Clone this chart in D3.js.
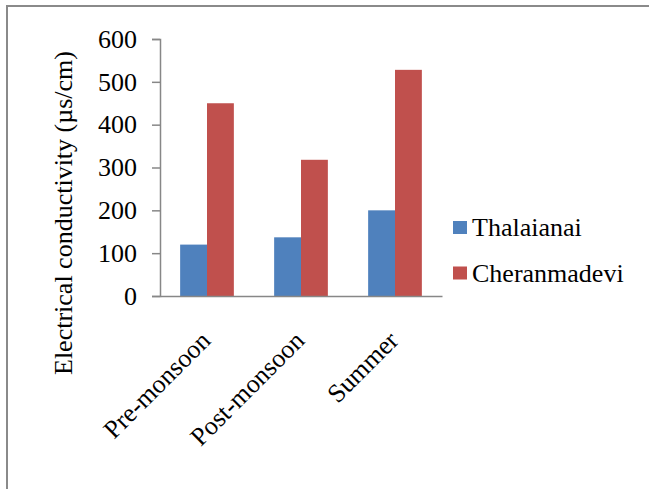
<!DOCTYPE html>
<html>
<head>
<meta charset="utf-8">
<script src="https://cdn.jsdelivr.net/npm/d3@7"></script>
<style>
  html, body { margin: 0; padding: 0; background: #fff; }
  svg { display: block; }
</style>
</head>
<body>
<svg id="chart" width="649" height="489"></svg>
<script>
const categories = ["Pre-monsoon", "Post-monsoon", "Summer"];
const seriesNames = ["Thalaianai", "Cheranmadevi"];
const thalaianai = [120, 137, 200];
const cheranmadevi = [450, 318, 528];
const yTicks = [0, 100, 200, 300, 400, 500, 600];
const colors = ["#4F81BD", "#C0504D"];
const yTitle = "Electrical conductivity (µs/cm)";

(function () {
const FONT = '"Liberation Serif"';
const FS = 26;
const svg = d3.select("#chart");

// outer border (clipped on right/bottom)
svg.append("rect").attr("x", 7).attr("y", 6).attr("width", 700).attr("height", 600)
  .attr("fill", "none").attr("stroke", "#8a8a8a").attr("stroke-width", 2);

const mLeft = 160, mRight = 442, mTop = 39, mBottom = 296;
const x0 = d3.scaleBand().domain(categories).range([mLeft, mRight]).paddingInner(0).paddingOuter(0);
const x1 = d3.scaleBand().domain(seriesNames).range([0, x0.bandwidth()]).paddingInner(0).paddingOuter(0.75);
const y = d3.scaleLinear().domain([0, 600]).range([mBottom, mTop]);

const data = categories.map((c, i) => ({cat: c, vals: [thalaianai[i], cheranmadevi[i]]}));

const g = svg.append("g");
const groups = g.selectAll("g.cat").data(data).join("g")
  .attr("transform", d => `translate(${x0(d.cat)},0)`);
groups.selectAll("rect").data(d => d.vals.map((v, j) => ({name: seriesNames[j], v, j})))
  .join("rect")
  .attr("x", d => x1(d.name))
  .attr("y", d => y(d.v))
  .attr("width", x1.bandwidth())
  .attr("height", d => y(0) - y(d.v))
  .attr("fill", d => colors[d.j]);

// y axis
const yAxis = d3.axisLeft(y).tickValues(yTicks).tickSize(8).tickPadding(15).tickFormat(d3.format("d"));
const ya = svg.append("g").attr("transform", `translate(${mLeft},0)`).call(yAxis);
ya.select(".domain").attr("stroke", "#878787").attr("stroke-width", 1.5);
ya.selectAll(".tick line").attr("stroke", "#878787").attr("stroke-width", 1.5);
ya.selectAll(".tick text").style("font-family", FONT).style("font-size", FS + "px").attr("fill", "#000");

// x axis
const xAxis = d3.axisBottom(x0).tickSize(0).tickFormat("");
const xa = svg.append("g").attr("transform", `translate(0,${mBottom})`).call(xAxis);
xa.select(".domain").attr("stroke", "#878787").attr("stroke-width", 1.5);

// category labels rotated
svg.append("g").selectAll("text").data(categories).join("text")
  .attr("transform", d => `translate(${x0(d) + x0.bandwidth()/2 + 5},${mBottom + 46}) rotate(-45)`)
  .attr("text-anchor", "end")
  .style("font-family", FONT).style("font-size", FS + "px")
  .text(d => d);

// y title
svg.append("text")
  .attr("transform", `translate(72,213) rotate(-90)`)
  .attr("text-anchor", "middle")
  .style("font-family", FONT).style("font-size", FS + "px")
  .text(yTitle);

// legend
const leg = svg.append("g").selectAll("g").data(seriesNames).join("g")
  .attr("transform", (d, i) => `translate(453,${221 + i * 45.5})`);
leg.append("rect").attr("width", 14).attr("height", 13).attr("fill", (d, i) => colors[i]);
leg.append("text").attr("x", 19).attr("y", 15)
  .style("font-family", FONT).style("font-size", FS + "px").text(d => d);
})();
</script>
</body>
</html>
